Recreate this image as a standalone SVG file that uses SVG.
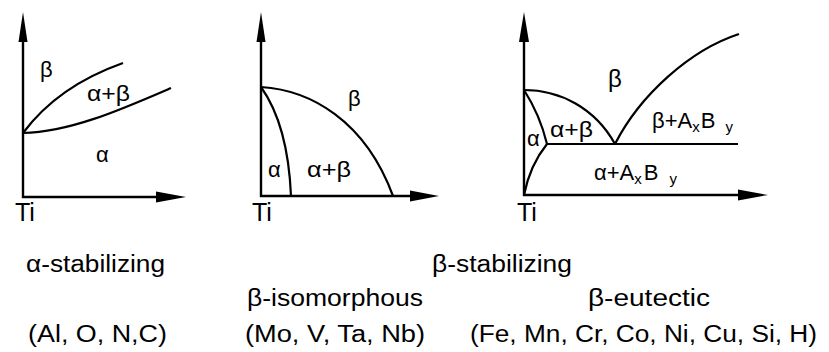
<svg xmlns="http://www.w3.org/2000/svg" width="829" height="352" viewBox="0 0 829 352">
<style>
.ax{stroke:#000;stroke-width:2.4;fill:none}
.cv{stroke:#000;stroke-width:2.2;fill:none}
.ah{fill:#000;stroke:none}
.lb{font-family:"Liberation Sans",Arial,sans-serif;font-size:22px;fill:#000}
.lb3{font-family:"Liberation Sans",Arial,sans-serif;font-size:24px;fill:#000}
.ti{font-family:"Liberation Sans",Arial,sans-serif;font-size:25px;fill:#000}
.sub{font-size:15px}
.cap{font-family:"Liberation Sans",Arial,sans-serif;font-size:23px;fill:#000}
</style>
<rect width="829" height="352" fill="#fff"/>
<g id="panel1">
  <path class="ax" d="M23,40 V197 H160"/>
  <polygon class="ah" points="23,12 18.5,42 27.5,42"/>
  <polygon class="ah" points="186,197 156,191.5 156,202.5"/>
  <path class="cv" d="M23,133 Q58,86 123,63"/>
  <path class="cv" d="M23,133 C70,132 120,110 171,88"/>
  <text class="lb" x="40" y="77">β</text>
  <text class="lb" x="87" y="101" textLength="43" lengthAdjust="spacingAndGlyphs">α+β</text>
  <text class="lb" x="96" y="162">α</text>
  <text class="ti" x="15" y="221">Ti</text>
</g>
<g id="panel2">
  <path class="ax" d="M261,40 V196 H414"/>
  <polygon class="ah" points="261,12 256.5,42 265.5,42"/>
  <polygon class="ah" points="439,196 410,190.5 410,201.5"/>
  <path class="cv" d="M261,87 Q288,125 291,196"/>
  <path class="cv" d="M261,87 C310,90 365,120 393,196"/>
  <text class="lb" x="348" y="106">β</text>
  <text class="lb" x="268" y="177">α</text>
  <text class="lb" x="307" y="177" textLength="44" lengthAdjust="spacingAndGlyphs">α+β</text>
  <text class="ti" x="252" y="221">Ti</text>
</g>
<g id="panel3">
  <path class="ax" d="M524,40 V195 H740"/>
  <polygon class="ah" points="524,12 519,42 529,42"/>
  <polygon class="ah" points="768,195 738,189.5 738,200.5"/>
  <path class="cv" d="M524,90 C560,90 595,108 615,144"/>
  <path class="cv" d="M524,90 Q540,115 547,144"/>
  <path class="cv" d="M547,144 Q530,165 524,195"/>
  <path class="cv" d="M547,144 H738"/>
  <path class="cv" d="M615,144 C640,95 690,50 739,34"/>
  <text class="lb3" x="608" y="87">β</text>
  <text class="lb" x="550" y="137" textLength="43" lengthAdjust="spacingAndGlyphs">α+β</text>
  <text class="lb" x="527" y="146">α</text>
  <text class="lb" x="652" y="128">β+A<tspan class="sub" dy="4">x</tspan><tspan dx="1" dy="-4">B</tspan><tspan class="sub" dx="10" dy="4">y</tspan></text>
  <text class="lb" x="594" y="180">α+A<tspan class="sub" dy="4">x</tspan><tspan dx="2" dy="-4">B</tspan><tspan class="sub" dx="11" dy="4">y</tspan></text>
  <text class="ti" x="517" y="221">Ti</text>
</g>
<g id="captions">
  <text class="cap" x="26" y="272" textLength="139" lengthAdjust="spacingAndGlyphs">α-stabilizing</text>
  <text class="cap" x="432" y="272" textLength="140" lengthAdjust="spacingAndGlyphs">β-stabilizing</text>
  <text class="cap" x="247" y="306" textLength="176" lengthAdjust="spacingAndGlyphs">β-isomorphous</text>
  <text class="cap" x="588" y="306" textLength="122" lengthAdjust="spacingAndGlyphs">β-eutectic</text>
  <text class="cap" x="28" y="342" textLength="139" lengthAdjust="spacingAndGlyphs">(Al, O, N,C)</text>
  <text class="cap" x="245" y="342" textLength="180" lengthAdjust="spacingAndGlyphs">(Mo, V, Ta, Nb)</text>
  <text class="cap" x="470" y="342" textLength="347" lengthAdjust="spacingAndGlyphs">(Fe, Mn, Cr, Co, Ni, Cu, Si, H)</text>
</g>
</svg>
